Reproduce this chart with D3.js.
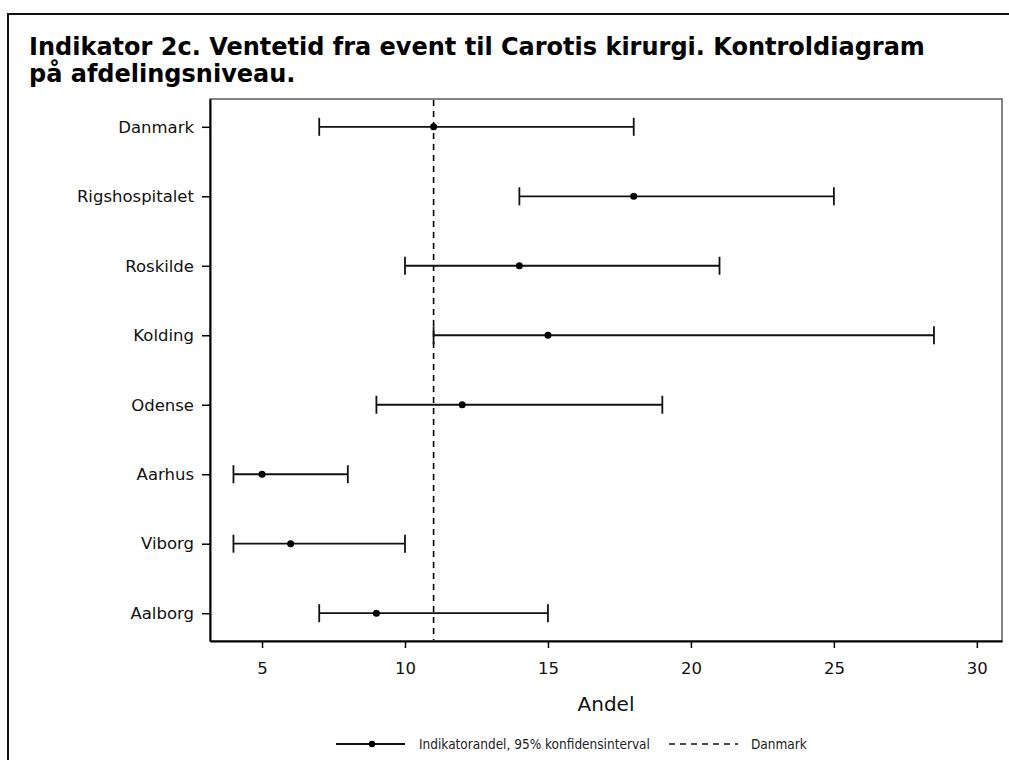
<!DOCTYPE html>
<html><head><meta charset="utf-8">
<script src="https://cdn.jsdelivr.net/npm/d3@7"></script>
<style>body{margin:0;background:#fff}</style>
</head><body>
<svg id="c" width="1009" height="760"></svg>
<script>
const categories = ["Danmark","Rigshospitalet","Roskilde","Kolding","Odense","Aarhus","Viborg","Aalborg"];
const estimates  = [11, 18, 14, 15, 12, 5, 6, 9];
const lowerCI    = [7, 14, 10, 11, 9, 4, 4, 7];
const upperCI    = [18, 25, 21, 28.5, 19, 8, 10, 15];
const referenceValue = 11;
const xTicks = [5, 10, 15, 20, 25, 30];
const titleLines = ["Indikator 2c. Ventetid fra event til Carotis kirurgi. Kontroldiagram", "på afdelingsniveau."];
const xLabel = "Andel";
const legendLabels = ["Indikatorandel, 95% konfidensinterval", "Danmark"];

const svg = d3.select("#c");
const font = "DejaVu Sans, sans-serif";
const L = 210, R = 1002, T = 99, B = 641;

svg.append("rect").attr("x",8).attr("y",14).attr("width",1100).attr("height",900)
  .attr("fill","none").attr("stroke","#111").attr("stroke-width",2);

const title = svg.append("text").attr("font-family",font).attr("font-weight","bold")
  .attr("font-size",24).attr("fill","#000");
titleLines.forEach((t,i)=>title.append("tspan").attr("x",29).attr("y",55+i*27).text(t));

const x = d3.scaleLinear().domain([3.18, 30.88]).range([L, R]);
const y = d3.scalePoint().domain(categories).range([T, B]).padding(0.4);

// frame
svg.append("rect").attr("x",L).attr("y",T).attr("width",R-L).attr("height",B-T)
  .attr("fill","none").attr("stroke","#444").attr("stroke-width",1.3);

const xAxis = svg.append("g").attr("transform",`translate(0,${B})`)
  .call(d3.axisBottom(x).tickValues(xTicks).tickSize(7).tickSizeOuter(0).tickPadding(14).tickFormat(d3.format("d")));
xAxis.select(".domain").attr("stroke","#000").attr("stroke-width",2);
xAxis.selectAll(".tick line").attr("stroke","#000").attr("stroke-width",1.5);
xAxis.selectAll("text").attr("font-family",font).attr("font-size",16.5).attr("fill","#111");

const yAxis = svg.append("g").attr("transform",`translate(${L},0)`)
  .call(d3.axisLeft(y).tickSize(8).tickSizeOuter(0).tickPadding(8));
yAxis.select(".domain").attr("stroke","#000").attr("stroke-width",2);
yAxis.selectAll(".tick line").attr("stroke","#000").attr("stroke-width",1.5);
yAxis.selectAll("text").attr("font-family",font).attr("font-size",16.5).attr("fill","#111");

// reference line
svg.append("line").attr("x1",x(referenceValue)).attr("x2",x(referenceValue))
  .attr("y1",T+1).attr("y2",B-1).attr("stroke","#000").attr("stroke-width",1.6)
  .attr("stroke-dasharray","6,5");

const rows = categories.map((c,i)=>({c, est:estimates[i], lo:lowerCI[i], hi:upperCI[i]}));
const g = svg.append("g");
g.selectAll(".ci").data(rows).join("line")
  .attr("x1",d=>x(d.lo)).attr("x2",d=>x(d.hi)).attr("y1",d=>y(d.c)).attr("y2",d=>y(d.c))
  .attr("stroke","#111").attr("stroke-width",1.8);
["lo","hi"].forEach(k=>{
  g.selectAll(".cap"+k).data(rows).join("line")
    .attr("x1",d=>x(d[k])).attr("x2",d=>x(d[k])).attr("y1",d=>y(d.c)-9).attr("y2",d=>y(d.c)+9)
    .attr("stroke","#111").attr("stroke-width",1.8);
});
g.selectAll("circle").data(rows).join("circle")
  .attr("cx",d=>x(d.est)).attr("cy",d=>y(d.c)).attr("r",3.5).attr("fill","#000");

svg.append("text").attr("x",(L+R)/2).attr("y",711).attr("text-anchor","middle")
  .attr("font-family",font).attr("font-size",20).attr("fill","#111").text(xLabel);

// legend
const ly = 744;
const lf = "DejaVu Sans Condensed, DejaVu Sans, sans-serif";
svg.append("line").attr("x1",336).attr("x2",405).attr("y1",ly).attr("y2",ly).attr("stroke","#111").attr("stroke-width",1.8);
svg.append("circle").attr("cx",372).attr("cy",ly).attr("r",3.2).attr("fill","#000");
svg.append("text").attr("x",419).attr("y",ly+5).attr("font-family",lf).attr("font-size",13.5).attr("fill","#222").text(legendLabels[0]);
svg.append("line").attr("x1",669).attr("x2",738).attr("y1",ly).attr("y2",ly).attr("stroke","#111").attr("stroke-width",1.6).attr("stroke-dasharray","6,5");
svg.append("text").attr("x",751).attr("y",ly+5).attr("font-family",lf).attr("font-size",13.5).attr("fill","#222").text(legendLabels[1]);
</script>
</body></html>
